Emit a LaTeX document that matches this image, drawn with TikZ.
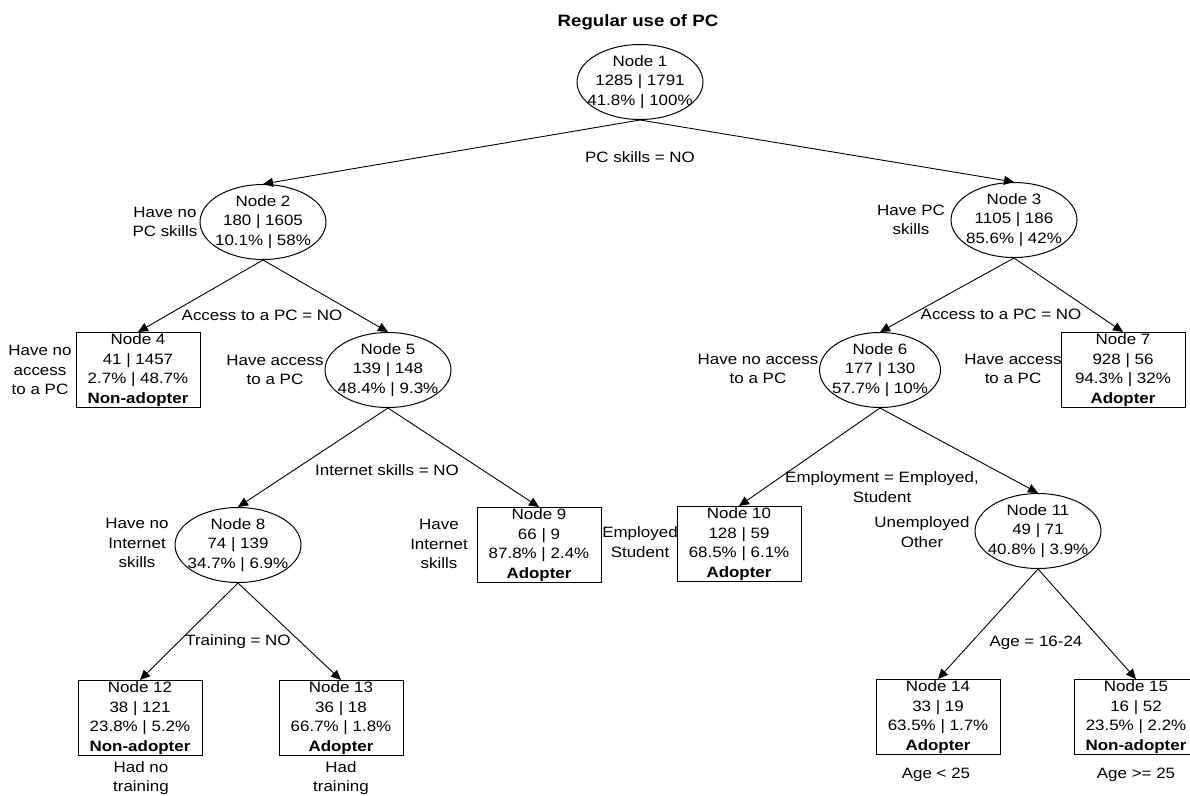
\documentclass[tikz,border=0pt]{standalone}
\usepackage{fontspec}
\setmainfont{Liberation Sans}[FakeStretch=1.13]
\usetikzlibrary{shapes, arrows.meta}

\tikzset{
  nodetext/.style={font=\fontsize{15}{19.5}\selectfont, align=center, inner sep=0},
  splitnode/.style={draw, ellipse, line width=1, minimum width=126, minimum height=75, inner sep=0},
  leafnode/.style={draw, rectangle, line width=1, minimum width=124, minimum height=75, nodetext},
  branch/.style={-{Triangle[length=10pt,width=9pt]}, line width=0.9}
}

\begin{document}
\begin{tikzpicture}[x=1pt, y=-1pt]
  \useasboundingbox (0,0) rectangle (1190,795);
  \node[font=\bfseries\fontsize{16.5}{20}\selectfont] (title) at (638,22) {Regular use of PC};

  % split nodes
  \node[splitnode, label={[nodetext]center:Node 1\\1285 | 1791\\41.8\% | 100\%}] (n1) at (640,82) {};
  \node[splitnode, label={[nodetext]center:Node 2\\180 | 1605\\10.1\% | 58\%}] (n2) at (263,222) {};
  \node[splitnode, label={[nodetext]center:Node 3\\1105 | 186\\85.6\% | 42\%}] (n3) at (1014,220) {};
  \node[splitnode, label={[nodetext]center:Node 5\\139 | 148\\48.4\% | 9.3\%}] (n5) at (388,370) {};
  \node[splitnode, minimum width=121, label={[nodetext]center:Node 6\\177 | 130\\57.7\% | 10\%}] (n6) at (880,370) {};
  \node[splitnode, label={[nodetext]center:Node 8\\74 | 139\\34.7\% | 6.9\%}] (n8) at (238,545) {};
  \node[splitnode, label={[nodetext]center:Node 11\\49 | 71\\40.8\% | 3.9\%}] (n11) at (1038,531) {};

  % leaves
  \node[leafnode] (n4) at (138,370) {Node 4\\41 | 1457\\2.7\% | 48.7\%\\\textbf{Non-adopter}};
  \node[leafnode] (n7) at (1123,370) {Node 7\\928 | 56\\94.3\% | 32\%\\\textbf{Adopter}};
  \node[leafnode] (n9) at (539,545) {Node 9\\66 | 9\\87.8\% | 2.4\%\\\textbf{Adopter}};
  \node[leafnode] (n10) at (739,544) {Node 10\\128 | 59\\68.5\% | 6.1\%\\\textbf{Adopter}};
  \node[leafnode] (n12) at (140,718) {Node 12\\38 | 121\\23.8\% | 5.2\%\\\textbf{Non-adopter}};
  \node[leafnode] (n13) at (341,718) {Node 13\\36 | 18\\66.7\% | 1.8\%\\\textbf{Adopter}};
  \node[leafnode] (n14) at (938,717) {Node 14\\33 | 19\\63.5\% | 1.7\%\\\textbf{Adopter}};
  \node[leafnode] (n15) at (1136,717) {Node 15\\16 | 52\\23.5\% | 2.2\%\\\textbf{Non-adopter}};

  % branches
  \draw[branch] (n1.south) -- (n2.north);
  \draw[branch] (n1.south) -- (n3.north);
  \draw[branch] (n2.south) -- (n4.north);
  \draw[branch] (n2.south) -- (n5.north);
  \draw[branch] (n3.south) -- (n6.north);
  \draw[branch] (n3.south) -- (n7.north);
  \draw[branch] (n5.south) -- (n8.north);
  \draw[branch] (n5.south) -- (n9.north);
  \draw[branch] (n6.south) -- (n10.north);
  \draw[branch] (n6.south) -- (n11.north);
  \draw[branch] (n8.south) -- (n12.north);
  \draw[branch] (n8.south) -- (n13.north);
  \draw[branch] (n11.south) -- (n14.north);
  \draw[branch] (n11.south) -- (n15.north);

  % split rules
  \node[nodetext] (r1) at (640,157) {PC skills = NO};
  \node[nodetext] (r2) at (262,315) {Access to a PC = NO};
  \node[nodetext] (r3) at (1001,314) {Access to a PC = NO};
  \node[nodetext] (r5) at (387,470) {Internet skills = NO};
  \node[nodetext] (r6) at (882,487) {Employment = Employed,\\Student};
  \node[nodetext] (r8) at (238,642) {Training = NO};
  \node[nodetext] (r11) at (1036,643) {Age = 16-24};

  % group labels
  \node[nodetext] (g2) at (165,222) {Have no\\PC skills};
  \node[nodetext] (g3) at (911,220) {Have PC\\skills};
  \node[nodetext] (g4) at (40,370) {Have no\\access\\to a PC};
  \node[nodetext] (g5) at (275,370) {Have access\\to a PC};
  \node[nodetext] (g6) at (758,369) {Have no access\\to a PC};
  \node[nodetext] (g7) at (1013,369) {Have access\\to a PC};
  \node[nodetext] (g8) at (137,543) {Have no\\Internet\\skills};
  \node[nodetext] (g9) at (439,544) {Have\\Internet\\skills};
  \node[nodetext] (g10) at (640,542) {Employed\\Student};
  \node[nodetext] (g11) at (922,532) {Unemployed\\Other};
  \node[nodetext] (g12) at (141,778) {Had no\\training};
  \node[nodetext] (g13) at (341,778) {Had\\training};
  \node[nodetext] (g14) at (936,775) {Age < 25};
  \node[nodetext] (g15) at (1136,775) {Age >= 25};
\end{tikzpicture}
\end{document}
